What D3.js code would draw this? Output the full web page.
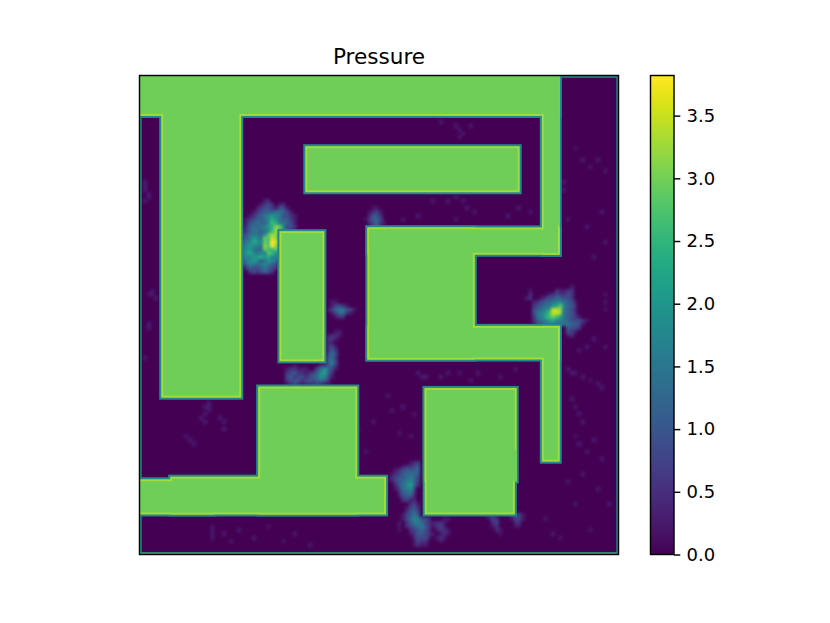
<!DOCTYPE html>
<html><head><meta charset="utf-8">
<script src="https://cdn.jsdelivr.net/npm/d3@7"></script>
<style>html,body{margin:0;background:#fff}svg{display:block}text{font-family:"DejaVu Sans";fill:#000}</style>
</head><body><svg id="c" width="830" height="623"></svg>
<script>
const title = "Pressure";
const gridSize = 128;
const colorMax = 3.82;
const barTicks = [0, 0.5, 1, 1.5, 2, 2.5, 3, 3.5];
const wallValue = 2.98, wallEdgeValue = 3.3, wallOuterValue = 1.8, faintValue = 0.3;
// obstacles in grid units, overlapping so that joins stay seamless: [col0,row0,col1,row1]
const walls = [
  [-2,-2,112.3,10.8],[5.8,-2,27.2,86.1],[107.5,-2,112.3,47.9],
  [60.9,40.6,112.3,47.9],[60.9,40.6,89.6,75.9],[60.9,66.9,112.3,75.9],[107.5,66.9,112.3,103.2],
  [44.3,18.9,101.6,31.2],[37.4,41.6,49.4,76.4],[31.7,83.1,58.2,117.3],
  [8.2,107.2,65.9,117.3],[-2,107.9,20,117.3],[76.2,83.5,100.8,108.5],[76.2,83.5,100.3,117.3]
];
// wall stretches with no bright rim: [col0,row0,col1,row1]
const plainRims = [[111,-2,112.3,40],[100,100,100.8,108.5]];
// hand-read patches, [col, row, gain, rows]; each character is a base-20 level of 0.2
const patches = [
 [27,33,1.45,["000000120000000","000001232012000","000012332133100","000123444554310","001234567653321","012344568754421","013454469855431","024545678ba6332","124554569b75320","2355546abb65200","245765a9cb66000","356876a9fc77000","467665b9fb66000","567544a98a55000","5786566a9755000","466778786644000","356764576500000","246545654300000","024334543200000","002323432000000"]],
 [102,56,1.45,["0000000000000100000","0010000002112200000","0020000123223200000","0120012334433200000","0001234456654310000","0002345578a64320000","00034567ccb54310000","00035679ccb54320000","00025689a9754321000","0002456786654333210","0001345665555443100","0000000000004332000","0000000000003210000","0000000000001200000"]],
 [38,68,1.35,["000000000000001100","000000000000122100","000000000000221000","000000000000210000","000000000000231000","000000000000242000","000000000000353000","000000000001452000","000000000001463000","000100000022452000","012211100357531000","023422123478420000","034233234576310000","023442343454200000","012321222321100000"]],
 [50,60,1.35,["01100000","01332100","13566431","01355210","00122000"]],
 [60,35,1.2,["001100","012310","025420","135530","024521","013410"]],
 [66,103,1.3,["0000001230","0000122340","0012344450","0123455540","0234456530","0134567430","0024578520","0013567300","0002455200","0001344100","0000230000"]],
 [68,113,1.3,["0000120000000000","0000231000000000","0001342000000000","0002453000000000","0013464000000000","0013576432000110","0102466532122100","0102345642123100","0100234532012210","0000124432101210","0000023331012100","0000013220001000","0000012110000000"]],
 [91,117,1.2,["012200002331","001320001331","000230000220","000120000110","000021000000","000001000000"]]
];
// thin faint trails, [col,row]
const faintCells = [
 [1,28],[1,29],[1,30],[2,31],[2,32],[1,33],[3,57],[2,58],[3,58],[4,59],[2,66],[2,67],[1,75],
 [17,88],[18,87],[18,88],[18,89],[17,90],[16,91],[17,92],[12,96],[13,97],[14,98],[21,91],[22,92],[22,94],
 [19,120],[19,121],[19,122],[19,123],[22,122],[24,124],[26,121],[30,123],[34,120],[38,124],[41,122],[45,125],
 [84,13],[85,14],[86,15],[85,16],[80,12],[88,13],[78,33],[82,33],[84,32],[86,33],[87,35],[89,36],[74,37],[70,38],[84,38],
 [74,79],[75,80],[76,80],[80,80],[82,79],[85,79],[88,81],[90,79],[66,85],[67,89],[69,95],[62,92],
 [114,78],[115,79],[116,79],[118,80],[120,81],[122,82],[123,83],[117,73],[119,72],[121,70],[124,72],[124,62],[124,60],[124,58],
 [116,19],[118,22],[120,24],[122,22],[124,25],[113,28],[113,30],[114,38],[119,40],[123,36],[124,44],[121,48],
 [115,86],[116,88],[117,90],[118,92],[116,96],[117,98],[119,100],[121,97],[123,102],[114,108],[118,106],[122,110],[125,114],[116,114],[108,118],[110,122],[120,121],[112,123],
 [12,40],[14,2],[56,87],[58,94],[60,100],[98,37],[101,35],[104,36],[100,78],[96,80],[94,92],[72,96],[73,90],[70,88]
];
// outer rim lines: [x0,y0,x1,y1,value] in grid units
const rimLines = [[0.25,0,0.25,128,2.0],[0,127.75,128,127.75,2.4],[127.75,0,127.75,128,1.9],[0,0.25,128,0.25,1.9]];

const L=139.5, T=75.5, S=479;
const svg=d3.select("#c");
const x=d3.scaleLinear().domain([0,gridSize]).range([L,L+S]);
const y=d3.scaleLinear().domain([0,gridSize]).range([T,T+S]);
const color=d3.scaleSequential(d3.interpolateViridis).domain([0,colorMax]);

const grid=d3.range(gridSize).map(()=>new Array(gridSize).fill(0));
patches.forEach(([c0,r0,g,rows])=>rows.forEach((s,i)=>[...s].forEach((ch,j)=>{
  const r=r0+i,c=c0+j;
  if(r<gridSize&&c<gridSize)grid[r][c]=Math.max(grid[r][c],Math.min(colorMax,parseInt(ch,20)*0.2*g));
})));
faintCells.forEach(([c,r])=>{if(grid[r][c]<faintValue)grid[r][c]=faintValue;});
const cells=[];grid.forEach((row,r)=>row.forEach((v,c)=>cells.push({r,c,v})));

const defs=svg.append("defs");
const mkBlur=(id,sd)=>defs.append("filter").attr("id",id).attr("x","-2%").attr("y","-2%").attr("width","104%").attr("height","104%")
  .attr("color-interpolation-filters","sRGB").append("feGaussianBlur").attr("stdDeviation",sd);
mkBlur("softField",1.7);
mkBlur("softWall",0.55);
defs.append("clipPath").attr("id","clipP").append("rect").attr("x",L).attr("y",T).attr("width",S).attr("height",S);
const clipG=svg.append("g").attr("clip-path","url(#clipP)");
clipG.append("rect").attr("x",L).attr("y",T).attr("width",S).attr("height",S).attr("fill",color(0));
clipG.append("g").attr("filter","url(#softField)").selectAll("rect").data(cells).join("rect")
  .attr("x",d=>x(d.c)).attr("y",d=>y(d.r))
  .attr("width",x(1)-x(0)+0.3).attr("height",y(1)-y(0)+0.3)
  .attr("fill",d=>color(d.v)).attr("shape-rendering","crispEdges");
const heat=clipG.append("g").attr("filter","url(#softWall)");
heat.append("g").selectAll("line").data(rimLines).join("line")
  .attr("x1",d=>x(d[0])).attr("y1",d=>y(d[1])).attr("x2",d=>x(d[2])).attr("y2",d=>y(d[3]))
  .attr("stroke",d=>color(d[4])).attr("stroke-width",2.4);
const band=2;
const wallLayer=(cls,pad,v,list)=>heat.append("g").attr("class",cls).selectAll("rect").data(list).join("rect")
  .attr("x",d=>x(d[0])-pad).attr("y",d=>y(d[1])-pad)
  .attr("width",d=>x(d[2])-x(d[0])+2*pad).attr("height",d=>y(d[3])-y(d[1])+2*pad)
  .attr("fill",color(v));
wallLayer("outer",band,wallOuterValue,walls);
wallLayer("edge",0,wallEdgeValue,walls);
wallLayer("core",-band,wallValue,walls);
wallLayer("plain",0,wallValue,plainRims);

svg.append("rect").attr("x",L).attr("y",T).attr("width",S).attr("height",S)
  .attr("fill","none").attr("stroke","#000").attr("stroke-width",1.45);
svg.append("text").attr("x",L+S/2).attr("y",64).attr("text-anchor","middle").attr("font-size",21.6).text(title);

// colorbar
const barX=650.5, barW=23.5;
const barScale=d3.scaleLinear().domain([0,colorMax]).range([T+S,T]);
const levels=d3.range(256).map(i=>(i/256)*colorMax);
svg.append("g").selectAll("rect").data(levels).join("rect")
  .attr("x",barX).attr("width",barW)
  .attr("y",d=>barScale(d+colorMax/256)).attr("height",S/256+0.4)
  .attr("fill",d=>color(d+colorMax/512)).attr("shape-rendering","crispEdges");
svg.append("rect").attr("x",barX).attr("y",T).attr("width",barW).attr("height",S)
  .attr("fill","none").attr("stroke","#000").attr("stroke-width",1.45);
const ax=svg.append("g").attr("transform",`translate(${barX+barW},0)`)
  .call(d3.axisRight(barScale).tickValues(barTicks).tickFormat(d3.format(".1f")).tickSize(6.3).tickPadding(6.3));
ax.select(".domain").remove();
ax.selectAll("line").attr("stroke","#000").attr("stroke-width",1.45);
ax.selectAll("text").attr("font-size",18).attr("font-family","DejaVu Sans");
</script></body></html>
